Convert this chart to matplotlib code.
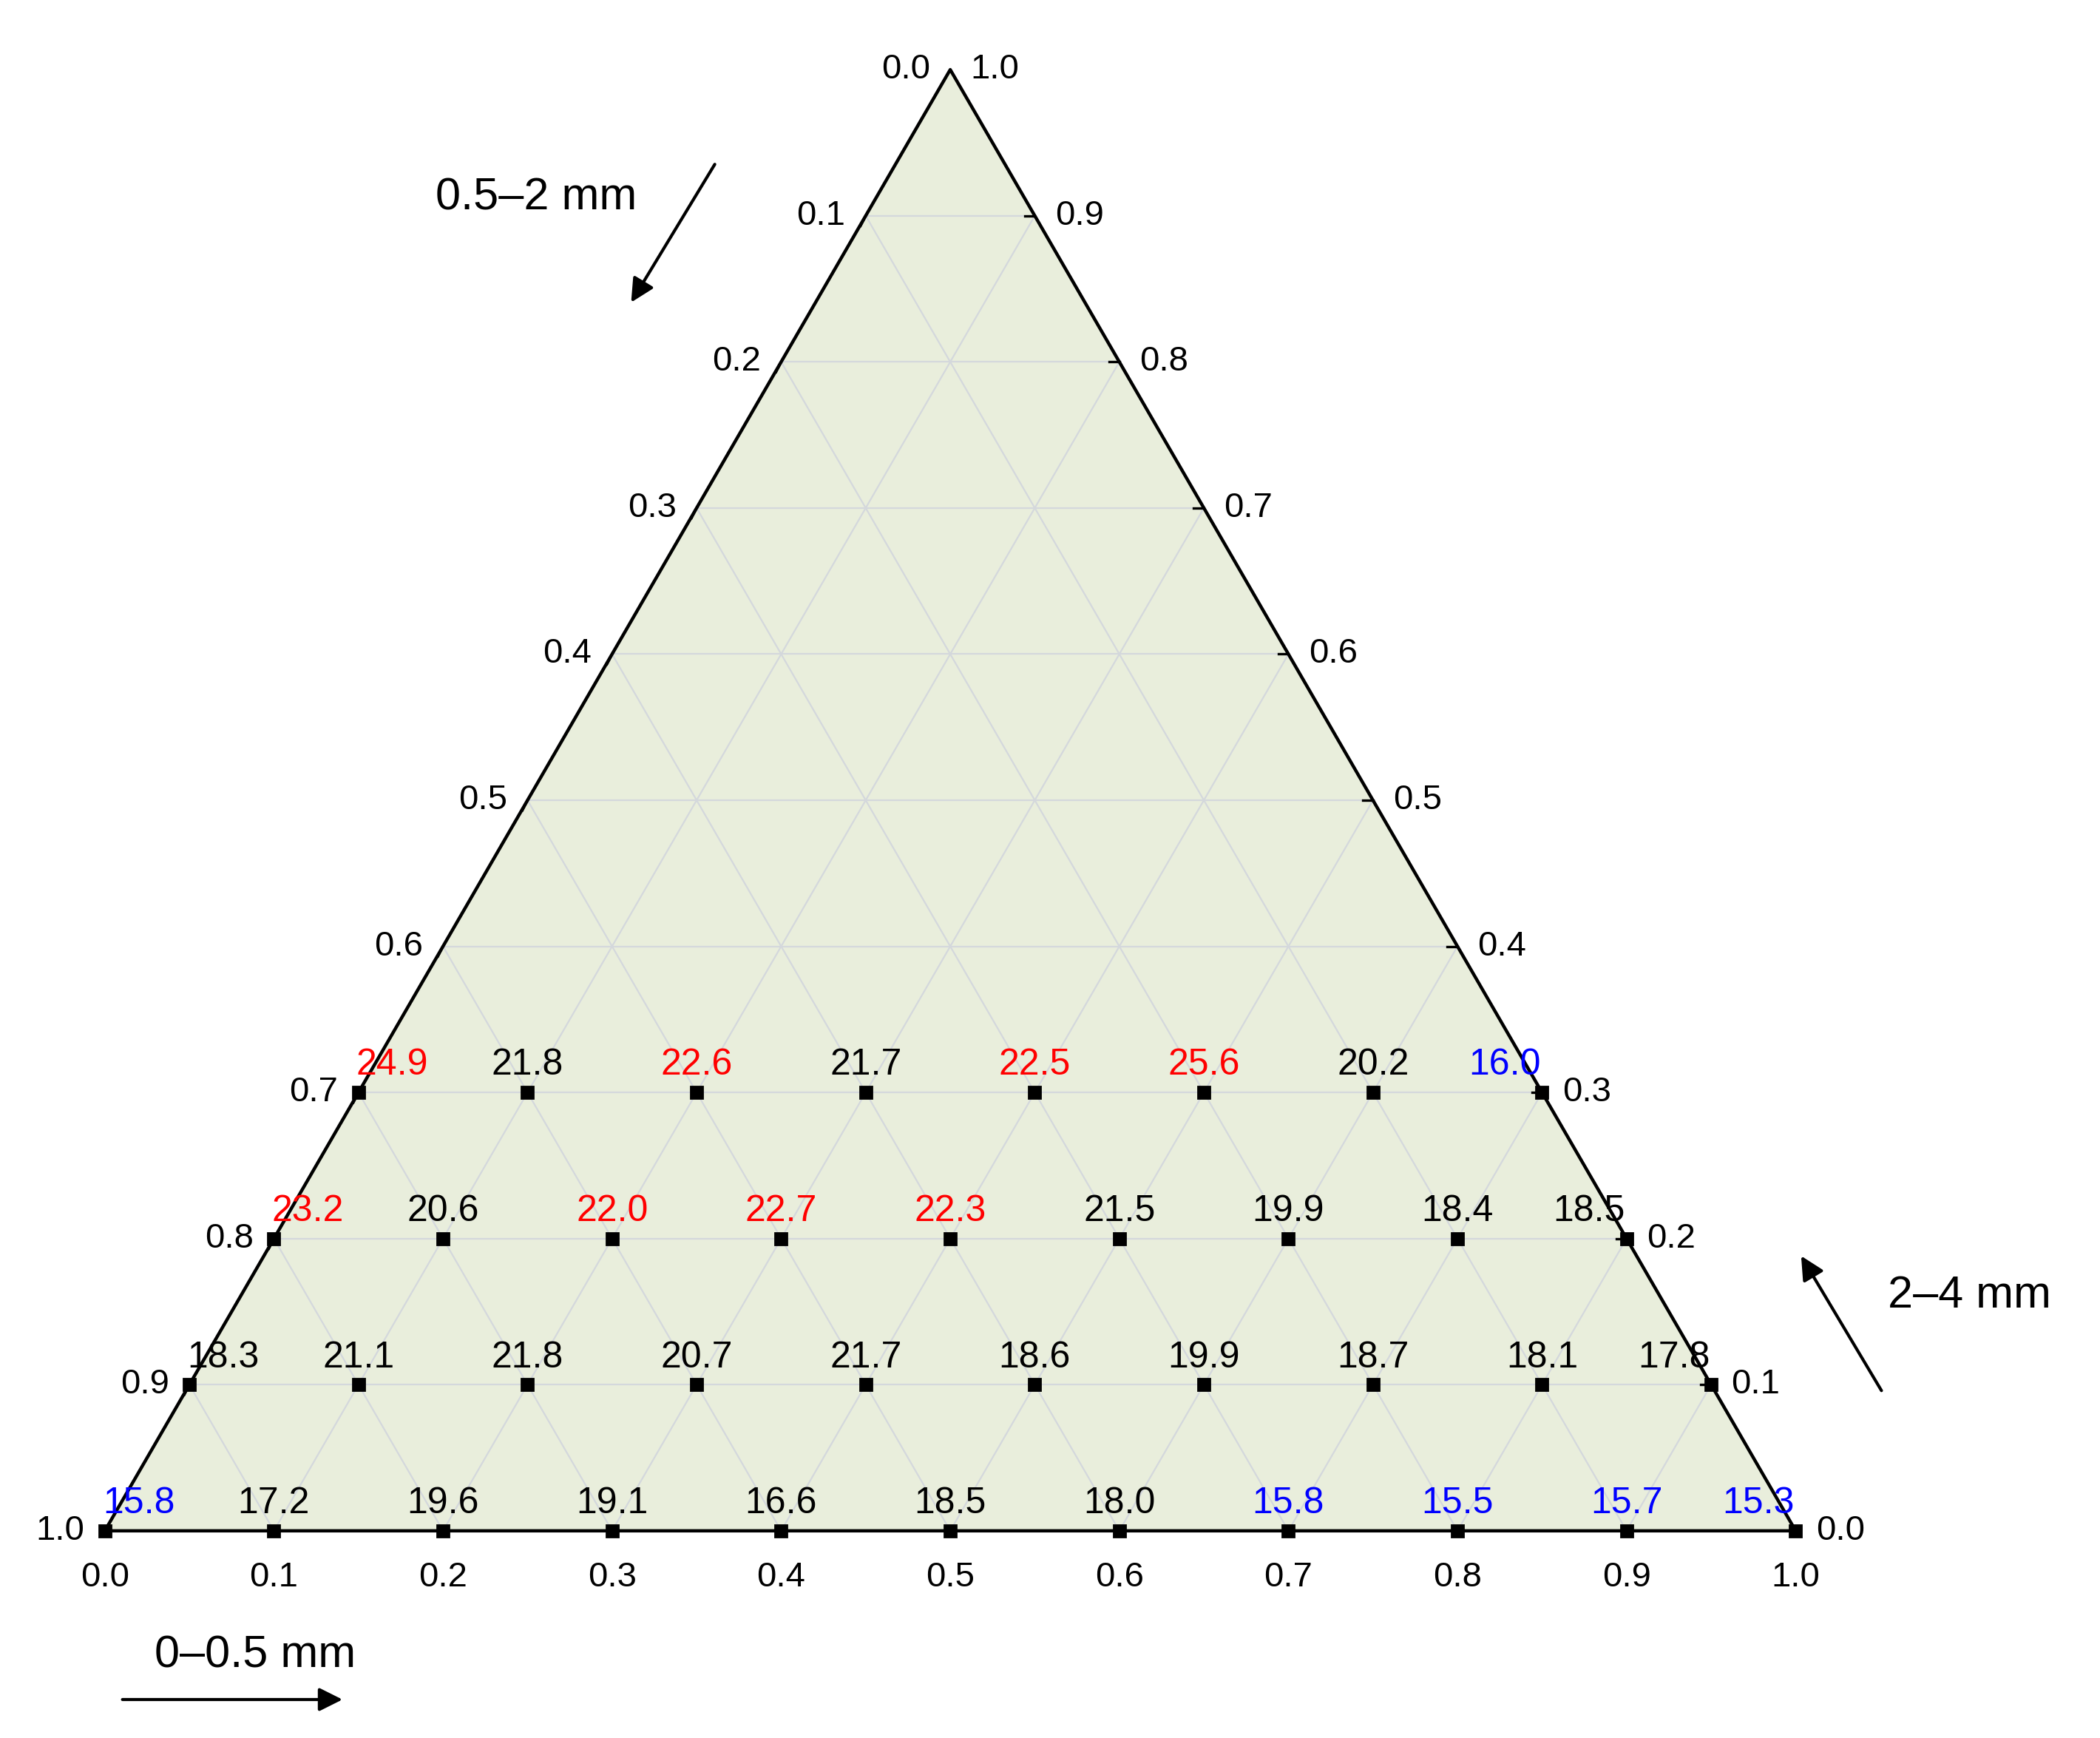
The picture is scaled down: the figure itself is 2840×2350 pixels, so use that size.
import matplotlib.pyplot as plt
import numpy as np

plt.rcParams['font.family'] = ['Liberation Sans', 'DejaVu Sans']

H = np.sqrt(3) / 2
ticks = [round(0.1 * i, 1) for i in range(11)]

# rows of samples: 2-4 mm fraction, values left to right (0-0.5 mm from 0 upward)
row_c = [0.0, 0.1, 0.2, 0.3]
row_vals = [
    [15.8, 17.2, 19.6, 19.1, 16.6, 18.5, 18.0, 15.8, 15.5, 15.7, 15.3],
    [18.3, 21.1, 21.8, 20.7, 21.7, 18.6, 19.9, 18.7, 18.1, 17.8],
    [23.2, 20.6, 22.0, 22.7, 22.3, 21.5, 19.9, 18.4, 18.5],
    [24.9, 21.8, 22.6, 21.7, 22.5, 25.6, 20.2, 16.0],
]
row_cols = [
    "bkkkkkkbbbb",
    "kkkkkkkkkk",
    "rkrrrkkkk",
    "rkrkrrkb",
]
cmap = {"r": "#ff0000", "b": "#0000ff", "k": "black"}

fig = plt.figure(figsize=(14.2, 11.75), dpi=200)
ax = fig.add_axes([0, 0, 1, 1])
ax.set_xlim(-0.062, 1.180)
ax.set_ylim(-0.1228, 0.9073)
ax.axis("off")

tri = np.array([[0, 0], [1, 0], [0.5, H], [0, 0]])
ax.fill(tri[:, 0], tri[:, 1], color="#e9eedc", zorder=0)

# grid
for t in ticks[1:-1]:
    ax.plot([t / 2, 1 - t / 2], [t * H, t * H], color="#d4d8dc", lw=0.8, zorder=1)
    ax.plot([t, t / 2 + 0.5], [0, (1 - t) * H], color="#d4d8dc", lw=0.8, zorder=1)
    ax.plot([t, t / 2], [0, t * H], color="#d4d8dc", lw=0.8, zorder=1)
ax.plot(tri[:, 0], tri[:, 1], color="black", lw=1.6, zorder=3)

fs = 17
for t in ticks:
    # bottom: 0-0.5 mm
    ax.text(t, -0.018, f"{t:.1f}", ha="center", va="top", fontsize=fs)
    # right: 2-4 mm
    ax.text(1 - t / 2 + 0.012, t * H, f"{t:.1f}", ha="left", va="center", fontsize=fs)
    # left: 0.5-2 mm (0 at top)
    c = 1 - t
    ax.text(c / 2 - 0.012, c * H, f"{t:.1f}", ha="right", va="center", fontsize=fs)
    if 0 < t < 1:
        ax.plot([c / 2, c / 2 - 0.003], [c * H, c * H - 0.006], color="black", lw=1.2)
        ax.plot([1 - t / 2, 1 - t / 2 - 0.006], [t * H, t * H], color="black", lw=1.2)

for c, vals, cols in zip(row_c, row_vals, row_cols):
    n = len(vals)
    for i, (v, col) in enumerate(zip(vals, cols)):
        x = i * 0.1 + c / 2
        y = c * H
        ax.plot(x, y, "s", color="black", ms=6, zorder=4)
        dx = 0.0
        if i == 0:
            dx = 0.02
        elif i == n - 1:
            dx = -0.022
        ax.text(x + dx, y + 0.006, f"{v:.1f}", ha="center", va="bottom",
                fontsize=fs + 1, color=cmap[col], zorder=5)

arw = dict(arrowstyle="-|>", color="black", lw=1.5, mutation_scale=24)
ax.annotate("", xy=(0.31, 0.726), xytext=(0.362, 0.812), arrowprops=arw)
ax.text(0.255, 0.79, "0.5–2 mm", ha="center", va="center", fontsize=22)
ax.annotate("", xy=(1.002, 0.165), xytext=(1.052, 0.081), arrowprops=arw)
ax.text(1.103, 0.139, "2–4 mm", ha="center", va="center", fontsize=22)
ax.annotate("", xy=(0.143, -0.1), xytext=(0.008, -0.1), arrowprops=arw)
ax.text(0.089, -0.074, "0–0.5 mm", ha="center", va="center", fontsize=22)

fig.savefig("out.png", dpi=200, facecolor="white")
